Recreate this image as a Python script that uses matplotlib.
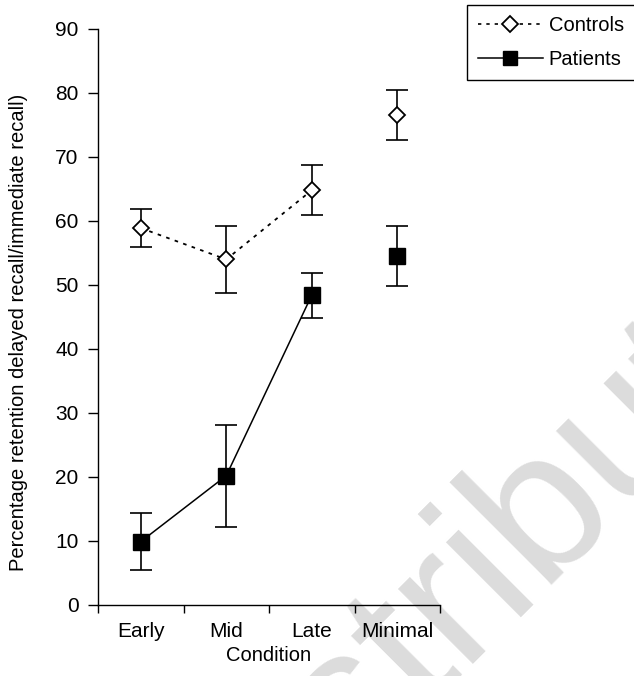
import matplotlib.pyplot as plt
import numpy as np
from matplotlib.lines import Line2D

conditions = ['Early', 'Mid', 'Late', 'Minimal']
controls_mean = [58.9, 54.0, 64.8, 76.5]
controls_err = [3.0, 5.2, 3.9, 3.9]
patients_mean = [9.9, 20.2, 48.4, 54.5]
patients_err = [4.4, 8.0, 3.5, 4.7]
yticks = list(range(0, 100, 10))

plt.rcParams['font.family'] = ['Liberation Sans', 'DejaVu Sans']

fig = plt.figure(figsize=(6.34, 6.76), dpi=100)
ax = fig.add_axes([98 / 634, 71 / 676, 342 / 634, 576 / 676])
ax.set_facecolor('none')

# faint watermark behind everything
fig.text(240 / 634, -213 / 676, 'distribute', fontsize=145, rotation=45,
         rotation_mode='anchor', ha='left', va='baseline', color='#dcdcdc', zorder=-5)

x = np.arange(1, len(conditions) + 1)

# error bars first, markers on top
ax.errorbar(x, controls_mean, yerr=controls_err, fmt='none', ecolor='black',
            elinewidth=1.2, capsize=8, capthick=1.2, zorder=2)
ax.errorbar(x, patients_mean, yerr=patients_err, fmt='none', ecolor='black',
            elinewidth=1.2, capsize=8, capthick=1.2, zorder=2)

# only the first three conditions are joined
ax.plot(x[:3], controls_mean[:3], linestyle=(0, (2, 3)), color='black', lw=1.3, zorder=3)
ax.plot(x[:3], patients_mean[:3], linestyle='-', color='black', lw=1.1, zorder=3)

ax.plot(x, controls_mean, 'D', ms=8, mfc='white', mec='black', mew=1.3, zorder=4)
ax.plot(x, patients_mean, 's', ms=11, mfc='black', mec='black', zorder=4)

ax.set_xlim(0.5, 4.5)
ax.set_ylim(0, 90)
ax.set_yticks(yticks)
ax.set_xticks(x)
ax.set_xticklabels(conditions)
ax.set_xticks(np.arange(0.5, 4.6, 1.0), minor=True)
ax.tick_params(axis='x', which='major', length=0, pad=12, labelsize=15)
ax.tick_params(axis='x', which='minor', length=6, width=1, direction='out')
ax.tick_params(axis='y', length=7, width=1, pad=7, labelsize=15, direction='out')

ax.spines['top'].set_visible(False)
ax.spines['right'].set_visible(False)
ax.spines['left'].set_linewidth(1)
ax.spines['bottom'].set_linewidth(1)

ax.set_xlabel('Condition', fontsize=14.5, labelpad=4)
ax.set_ylabel('Percentage retention delayed recall/immediate recall)', fontsize=14.5)
ax.yaxis.set_label_coords(-0.204, 0.474)

handles = [
    Line2D([], [], linestyle=(0, (2, 3)), color='black', lw=1.2, marker='D', ms=8,
           mfc='white', mec='black', mew=1.3),
    Line2D([], [], linestyle='-', color='black', lw=1.1, marker='s', ms=10,
           mfc='black', mec='black'),
]
leg = fig.legend(handles, ['Controls', 'Patients'], loc='upper left',
                 bbox_to_anchor=(467 / 634, 1 - 5 / 676), borderaxespad=0,
                 fontsize=14.5, handlelength=3.2, handletextpad=0.3,
                 labelspacing=0.75, borderpad=0.55, fancybox=False, framealpha=1)
leg.get_frame().set_edgecolor('black')
leg.get_frame().set_linewidth(1)

plt.savefig('out.png', dpi=100)
plt.close()
